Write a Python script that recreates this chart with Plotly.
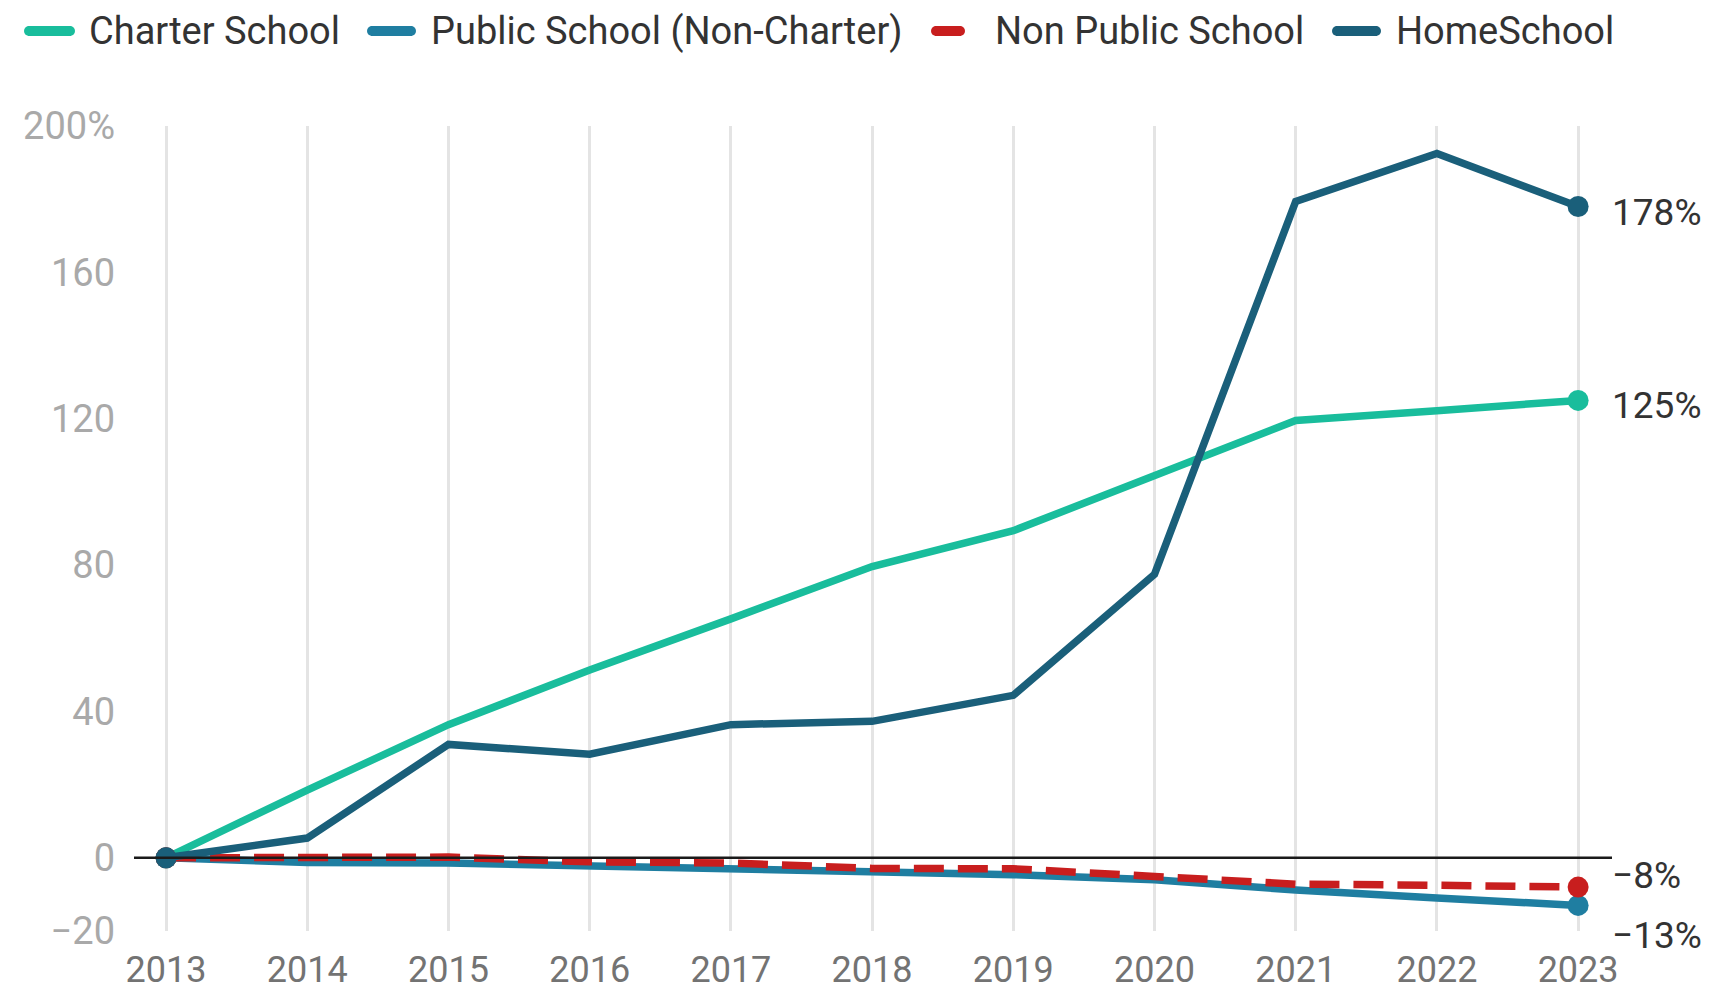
import plotly.graph_objects as go

# ---- data ----
years = [2013, 2014, 2015, 2016, 2017, 2018, 2019, 2020, 2021, 2022, 2023]
charter = [0, 18.5, 36.4, 51.3, 65.3, 79.6, 89.4, 104.6, 119.5, 122.2, 125]
public = [0, -1.3, -1.4, -2.2, -3.1, -3.4, -4.6, -6.0, -8.8, -11.0, -13]
nonpublic = [0, 0, 0.2, -1.1, -1.4, -2.9, -3.0, -5.1, -7.2, -7.5, -8]
homeschool = [0, 5.4, 31.0, 28.3, 36.4, 37.3, 44.4, 77.5, 179.4, 192.5, 178]

series_names = ["Charter School", "Public School (Non-Charter)", "Non Public School", "HomeSchool"]
ytick_vals = [-20, 0, 40, 80, 120, 160, 200]
ytick_text = ["\u221220", "0", "40", "80", "120", "160", "200%"]

# ---- styles ----
colors = {
    "Charter School": "#19bd9c",
    "Public School (Non-Charter)": "#1f7ea1",
    "Non Public School": "#c81e1e",
    "HomeSchool": "#1a5f7a",
}
dashes = {"Non Public School": "30px,14px"}
label_shift = {"Charter School": -5, "Public School (Non-Charter)": -30,
               "Non Public School": 12, "HomeSchool": -6}

W, H = 1710, 992
L, R, T, B = 134, 98, 126, 61
PW, PH = W - L - R, H - T - B
FONT = "Roboto, 'Noto Sans', sans-serif"


def pxx(p):
    return (p - L) / PW


def pxy(p):
    return (H - B - p) / PH


def fmt(v):
    s = f"{abs(round(v))}%"
    return ("\u2212" + s) if v < 0 else s


data = {
    "Charter School": charter,
    "Public School (Non-Charter)": public,
    "Non Public School": nonpublic,
    "HomeSchool": homeschool,
}

fig = go.Figure()
for name in series_names:
    vals = data[name]
    fig.add_trace(go.Scatter(
        x=years, y=vals, mode="lines", name=name,
        line=dict(color=colors[name], width=7.5, dash=dashes.get(name, "solid")),
        hoverinfo="x+y", showlegend=False,
    ))
    fig.add_trace(go.Scatter(
        x=[years[0], years[-1]], y=[vals[0], vals[-1]], mode="markers",
        marker=dict(color=colors[name], size=21), showlegend=False, hoverinfo="skip",
    ))

# end labels
for name in series_names:
    vals = data[name]
    fig.add_annotation(
        x=years[-1], y=vals[-1], text=fmt(vals[-1]), showarrow=False,
        xanchor="left", yanchor="middle", xshift=32, yshift=label_shift[name],
        font=dict(family=FONT, size=37, color="#333333"),
    )

# zero line above traces
fig.add_shape(type="line", xref="paper", x0=0, x1=1, yref="y", y0=0, y1=0,
              line=dict(color="#1a1a1a", width=2.5), layer="above")

# manual legend
legend_items = [
    ("Charter School", 24, 75, 88),
    ("Public School (Non-Charter)", 367, 416, 430),
    ("Non Public School", 931, 965, 994),
    ("HomeSchool", 1332, 1381, 1395),
]
ly = 31
for name, s0, s1, tx in legend_items:
    fig.add_shape(type="line", xref="paper", yref="paper",
                  x0=pxx(s0 + 4), x1=pxx(s1 - 4), y0=pxy(ly), y1=pxy(ly),
                  line=dict(color=colors[name], width=10))
    fig.add_shape(type="circle", xref="paper", yref="paper",
                  x0=pxx(s0), x1=pxx(s0 + 10), y0=pxy(ly + 5), y1=pxy(ly - 5),
                  line=dict(width=0), fillcolor=colors[name])
    fig.add_shape(type="circle", xref="paper", yref="paper",
                  x0=pxx(s1 - 10), x1=pxx(s1), y0=pxy(ly + 5), y1=pxy(ly - 5),
                  line=dict(width=0), fillcolor=colors[name])
    fig.add_annotation(x=pxx(tx), y=pxy(ly), xref="paper", yref="paper",
                       text=name, showarrow=False, xanchor="left", yanchor="middle",
                       font=dict(family=FONT, size=38, color="#333333"), borderpad=0)

fig.update_layout(
    width=W, height=H,
    margin=dict(l=L, r=R, t=T, b=B, pad=0, autoexpand=False),
    paper_bgcolor="white", plot_bgcolor="white",
    showlegend=False,
    font=dict(family=FONT),
    xaxis=dict(
        range=[2012.773, 2023.24], tickmode="array", tickvals=years,
        ticktext=[str(y) for y in years], automargin=False,
        showgrid=True, gridcolor="#e4e4e4", gridwidth=2.5,
        zeroline=False, showline=False, ticks="",
        tickfont=dict(family=FONT, size=36, color="#737373"),
        ticklabelstandoff=14,
    ),
    yaxis=dict(
        range=[-20, 200], tickmode="array", tickvals=ytick_vals, ticktext=ytick_text,
        automargin=False,
        showgrid=False, zeroline=False, showline=False, ticks="",
        tickfont=dict(family=FONT, size=38, color="#a9a9a9"),
        ticklabelstandoff=18,
    ),
)

fig.write_html("out.html", config={"displayModeBar": False},
               post_script="document.body.style.margin='0';")
